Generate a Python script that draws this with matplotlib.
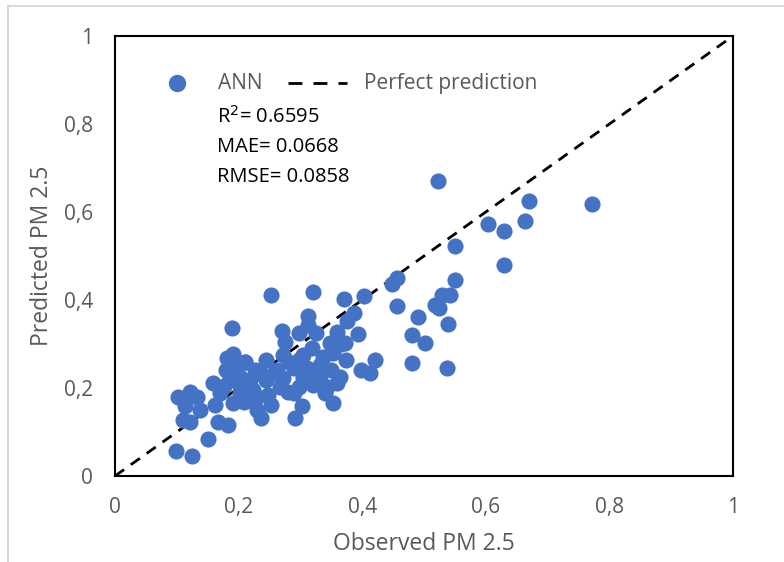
import matplotlib
matplotlib.use('Agg')
import matplotlib.pyplot as plt
from matplotlib.ticker import FuncFormatter
from matplotlib.lines import Line2D

plt.rcParams['font.family'] = ['Open Sans', 'DejaVu Sans']

observed = [0.523, 0.670, 0.772, 0.604, 0.629, 0.664, 0.550, 0.629, 0.457, 0.448,
            0.550, 0.529, 0.542, 0.456, 0.518, 0.525, 0.490, 0.539, 0.480, 0.501,
            0.420, 0.480, 0.537, 0.252, 0.320, 0.371, 0.403, 0.386, 0.376, 0.313,
            0.313, 0.271, 0.297, 0.326, 0.359, 0.394, 0.275, 0.348, 0.372, 0.352,
            0.374, 0.398, 0.413, 0.364, 0.353, 0.302, 0.291, 0.236, 0.229, 0.252,
            0.208, 0.248, 0.289, 0.340, 0.245, 0.210, 0.272, 0.305, 0.332, 0.310,
            0.289, 0.262, 0.235, 0.218, 0.245, 0.272, 0.305, 0.332, 0.359, 0.343,
            0.321, 0.297, 0.267, 0.224, 0.202, 0.189, 0.181, 0.191, 0.210, 0.159,
            0.186, 0.170, 0.202, 0.191, 0.162, 0.167, 0.183, 0.102, 0.121, 0.132,
            0.113, 0.138, 0.110, 0.121, 0.151, 0.099, 0.124, 0.196, 0.180, 0.226,
            0.258, 0.282, 0.318, 0.336, 0.365, 0.280, 0.230, 0.176, 0.200, 0.350,
            0.325, 0.300, 0.195, 0.215]
predicted = [0.670, 0.626, 0.619, 0.572, 0.557, 0.579, 0.523, 0.480, 0.450, 0.437,
             0.445, 0.411, 0.411, 0.386, 0.389, 0.381, 0.362, 0.345, 0.320, 0.303,
             0.264, 0.256, 0.245, 0.411, 0.418, 0.402, 0.408, 0.370, 0.353, 0.364,
             0.343, 0.330, 0.326, 0.324, 0.328, 0.323, 0.305, 0.302, 0.302, 0.279,
             0.264, 0.241, 0.235, 0.226, 0.165, 0.159, 0.131, 0.131, 0.150, 0.161,
             0.169, 0.184, 0.188, 0.188, 0.264, 0.260, 0.275, 0.275, 0.252, 0.245,
             0.245, 0.241, 0.233, 0.218, 0.218, 0.222, 0.222, 0.218, 0.211, 0.203,
             0.207, 0.203, 0.203, 0.195, 0.226, 0.336, 0.268, 0.277, 0.258, 0.211,
             0.226, 0.188, 0.188, 0.165, 0.161, 0.123, 0.116, 0.180, 0.192, 0.180,
             0.158, 0.150, 0.127, 0.123, 0.083, 0.057, 0.046, 0.250, 0.240, 0.240,
             0.235, 0.260, 0.290, 0.270, 0.300, 0.190, 0.180, 0.205, 0.210, 0.240,
             0.230, 0.265, 0.260, 0.175]

ticks = [0, 0.2, 0.4, 0.6, 0.8, 1]
stats_lines = ['R$^{2}$= 0.6595', 'MAE= 0.0668', 'RMSE= 0.0858']

blue = '#4472C4'
grey = '#595959'

fig = plt.figure(figsize=(7.84, 5.62), dpi=100)
ax = fig.add_axes([115 / 784, 1 - 476 / 562, 618 / 784, 440 / 562])

ax.scatter(observed, predicted, s=135, color=blue, linewidths=0, zorder=3)
ax.plot([0, 1], [0, 1], color='black', linestyle=(0, (4, 3)), linewidth=2, zorder=2)

ax.set_xlim(0, 1)
ax.set_ylim(0, 1)
ax.set_xticks(ticks)
ax.set_yticks(ticks)
fmt = FuncFormatter(lambda v, p: ('%g' % v).replace('.', ','))
ax.xaxis.set_major_formatter(fmt)
ax.yaxis.set_major_formatter(fmt)
ax.tick_params(length=0, labelsize=15, labelcolor=grey)
ax.tick_params(axis='x', pad=15)
ax.tick_params(axis='y', pad=16)
for s in ax.spines.values():
    s.set_linewidth(1.5)
    s.set_color('black')

ax.set_xlabel('Observed PM 2.5', fontsize=16.5, color=grey, labelpad=10)
ax.set_ylabel('Predicted PM 2.5', fontsize=16.5, color=grey, labelpad=7)

# 图例（手动摆放）
ax.plot([0.100], [0.893], marker='o', markersize=11.5, color=blue,
        linestyle='none', transform=ax.transAxes, clip_on=False)
ax.text(0.167, 0.893, 'ANN', transform=ax.transAxes, fontsize=15,
        color=grey, va='center')
ax.plot([0.280, 0.375], [0.893, 0.893], color='black', linestyle=(0, (5, 4)),
        linewidth=2, transform=ax.transAxes)
ax.text(0.403, 0.893, 'Perfect prediction', transform=ax.transAxes, fontsize=15,
        color=grey, va='center')

# 统计指标文字
for i, line in enumerate(stats_lines):
    ax.text(0.165, 0.816 - i * 0.068, line, transform=ax.transAxes,
            fontsize=14.5, color='black', va='center')

# 外框
fig.add_artist(Line2D([8 / 784, 8 / 784], [0, 1 - 6 / 562], transform=fig.transFigure,
                      color='#d9d9d9', linewidth=1.5))
fig.add_artist(Line2D([8 / 784, 1], [1 - 6 / 562, 1 - 6 / 562], transform=fig.transFigure,
                      color='#d9d9d9', linewidth=1.5))

fig.savefig('out.png', dpi=100)
